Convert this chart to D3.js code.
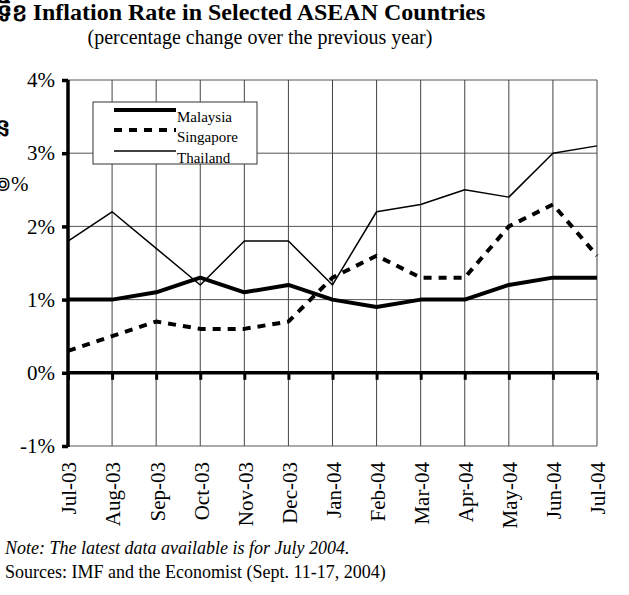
<!DOCTYPE html>
<html>
<head>
<meta charset="utf-8">
<style>
  body { margin: 0; background: #fff; }
  svg { display: block; font-family: "Liberation Serif", "Times New Roman", serif; }
</style>
</head>
<body>
<svg width="629" height="595"></svg>
<script src="https://d3js.org/d3.v7.min.js"></script>
<script>

var months = ["Jul-03", "Aug-03", "Sep-03", "Oct-03", "Nov-03", "Dec-03", "Jan-04",
              "Feb-04", "Mar-04", "Apr-04", "May-04", "Jun-04", "Jul-04"];
var malaysia  = [1.0, 1.0, 1.1, 1.3, 1.1, 1.2, 1.0, 0.9, 1.0, 1.0, 1.2, 1.3, 1.3];
var singapore = [0.3, 0.5, 0.7, 0.6, 0.6, 0.7, 1.3, 1.6, 1.3, 1.3, 2.0, 2.3, 1.6];
var thailand  = [1.8, 2.2, 1.7, 1.2, 1.8, 1.8, 1.2, 2.2, 2.3, 2.5, 2.4, 3.0, 3.1];
var yTicks = [-1, 0, 1, 2, 3, 4];

var series = [
  {name: "Malaysia",  values: malaysia,  width: 4,   dash: null},
  {name: "Singapore", values: singapore, width: 4,   dash: "8,7"},
  {name: "Thailand",  values: thailand,  width: 1.5, dash: null}
];

var svg = d3.select("svg");

var x = d3.scalePoint().domain(months).range([68, 597]);
var y = d3.scaleLinear().domain([-1, 4]).range([446, 80]);

// titles
svg.append("text")
    .attr("x", 259).attr("y", 20)
    .attr("text-anchor", "middle")
    .attr("font-size", 24).attr("font-weight", "bold")
    .text("Inflation Rate in Selected ASEAN Countries");
svg.append("text")
    .attr("x", 260).attr("y", 44)
    .attr("text-anchor", "middle")
    .attr("font-size", 20)
    .text("(percentage change over the previous year)");

// stray text cut at the left edge
svg.append("text").attr("x", -3).attr("y", 21).attr("font-size", 24).attr("font-weight", "bold").text("ទិខ");
svg.append("text").attr("x", -5).attr("y", 136).attr("font-size", 24).attr("font-weight", "bold").text("ន");
svg.append("text").attr("x", -6).attr("y", 191).attr("font-size", 21).text("៙%");

// grid
svg.append("g").selectAll("line")
  .data(yTicks.filter(function(d) { return d !== 0; }))
  .join("line")
    .attr("x1", x.range()[0]).attr("x2", x.range()[1])
    .attr("y1", function(d) { return y(d); }).attr("y2", function(d) { return y(d); })
    .attr("stroke", "#555").attr("stroke-width", 1);

svg.append("g").selectAll("line")
  .data(months.slice(1))
  .join("line")
    .attr("x1", function(d) { return x(d); }).attr("x2", function(d) { return x(d); })
    .attr("y1", y(4)).attr("y2", y(-1))
    .attr("stroke", "#444").attr("stroke-width", 1);

// y axis
var yAxis = svg.append("g")
    .attr("transform", "translate(" + x.range()[0] + ",0)")
    .call(d3.axisLeft(y).tickValues(yTicks).tickSize(6).tickPadding(7)
      .tickFormat(function(d) { return d + "%"; }));
yAxis.select(".domain").attr("stroke-width", 3.5).attr("d", "M0," + y(4) + "V" + (y(-1) + 1));
yAxis.selectAll(".tick line").attr("stroke-width", 3.5);
yAxis.selectAll(".tick text").attr("font-size", 21).attr("font-family", "Liberation Serif").attr("fill", "#000");

// zero line with ticks
var xAxis = svg.append("g")
    .attr("transform", "translate(0," + y(0) + ")")
    .call(d3.axisBottom(x).tickSize(7).tickFormat(""));
xAxis.select(".domain").attr("stroke-width", 3.5).attr("d", "M" + x.range()[0] + ",0H" + x.range()[1]);
xAxis.selectAll(".tick line").attr("stroke-width", 3);

// month labels
svg.append("g").selectAll("text")
  .data(months)
  .join("text")
    .attr("transform", function(d) { return "translate(" + (x(d) + 1) + ",462) rotate(-90)"; })
    .attr("dy", "0.35em")
    .attr("text-anchor", "end")
    .attr("font-size", 21)
    .text(function(d) { return d; });

// lines
var line = d3.line()
    .x(function(d, i) { return x(months[i]); })
    .y(function(d) { return y(d); });

svg.append("g").selectAll("path")
  .data(series)
  .join("path")
    .attr("fill", "none")
    .attr("stroke", "#000")
    .attr("stroke-width", function(d) { return d.width; })
    .attr("stroke-dasharray", function(d) { return d.dash; })
    .attr("stroke-linejoin", "round")
    .attr("d", function(d) { return line(d.values); });

// legend
var legend = svg.append("g").attr("transform", "translate(93,102)");
legend.append("rect")
    .attr("width", 164).attr("height", 62)
    .attr("fill", "#fff").attr("stroke", "#333").attr("stroke-width", 1);
var item = legend.selectAll("g.item")
  .data(series)
  .join("g")
    .attr("class", "item")
    .attr("transform", function(d, i) { return "translate(0," + [8, 28, 49][i] + ")"; });
item.append("line")
    .attr("x1", 21).attr("x2", 83)
    .attr("stroke", "#000")
    .attr("stroke-width", function(d) { return d.width; })
    .attr("stroke-dasharray", function(d) { return d.dash; });
item.append("text")
    .attr("x", 84).attr("y", 12)
    .attr("font-size", 15)
    .text(function(d) { return d.name; });

// notes
svg.append("text")
    .attr("x", 5).attr("y", 554)
    .attr("font-size", 18).attr("font-style", "italic")
    .text("Note: The latest data available is for July 2004.");
svg.append("text")
    .attr("x", 5).attr("y", 578)
    .attr("font-size", 18)
    .text("Sources: IMF and the Economist (Sept. 11-17, 2004)");

</script>
</body>
</html>
